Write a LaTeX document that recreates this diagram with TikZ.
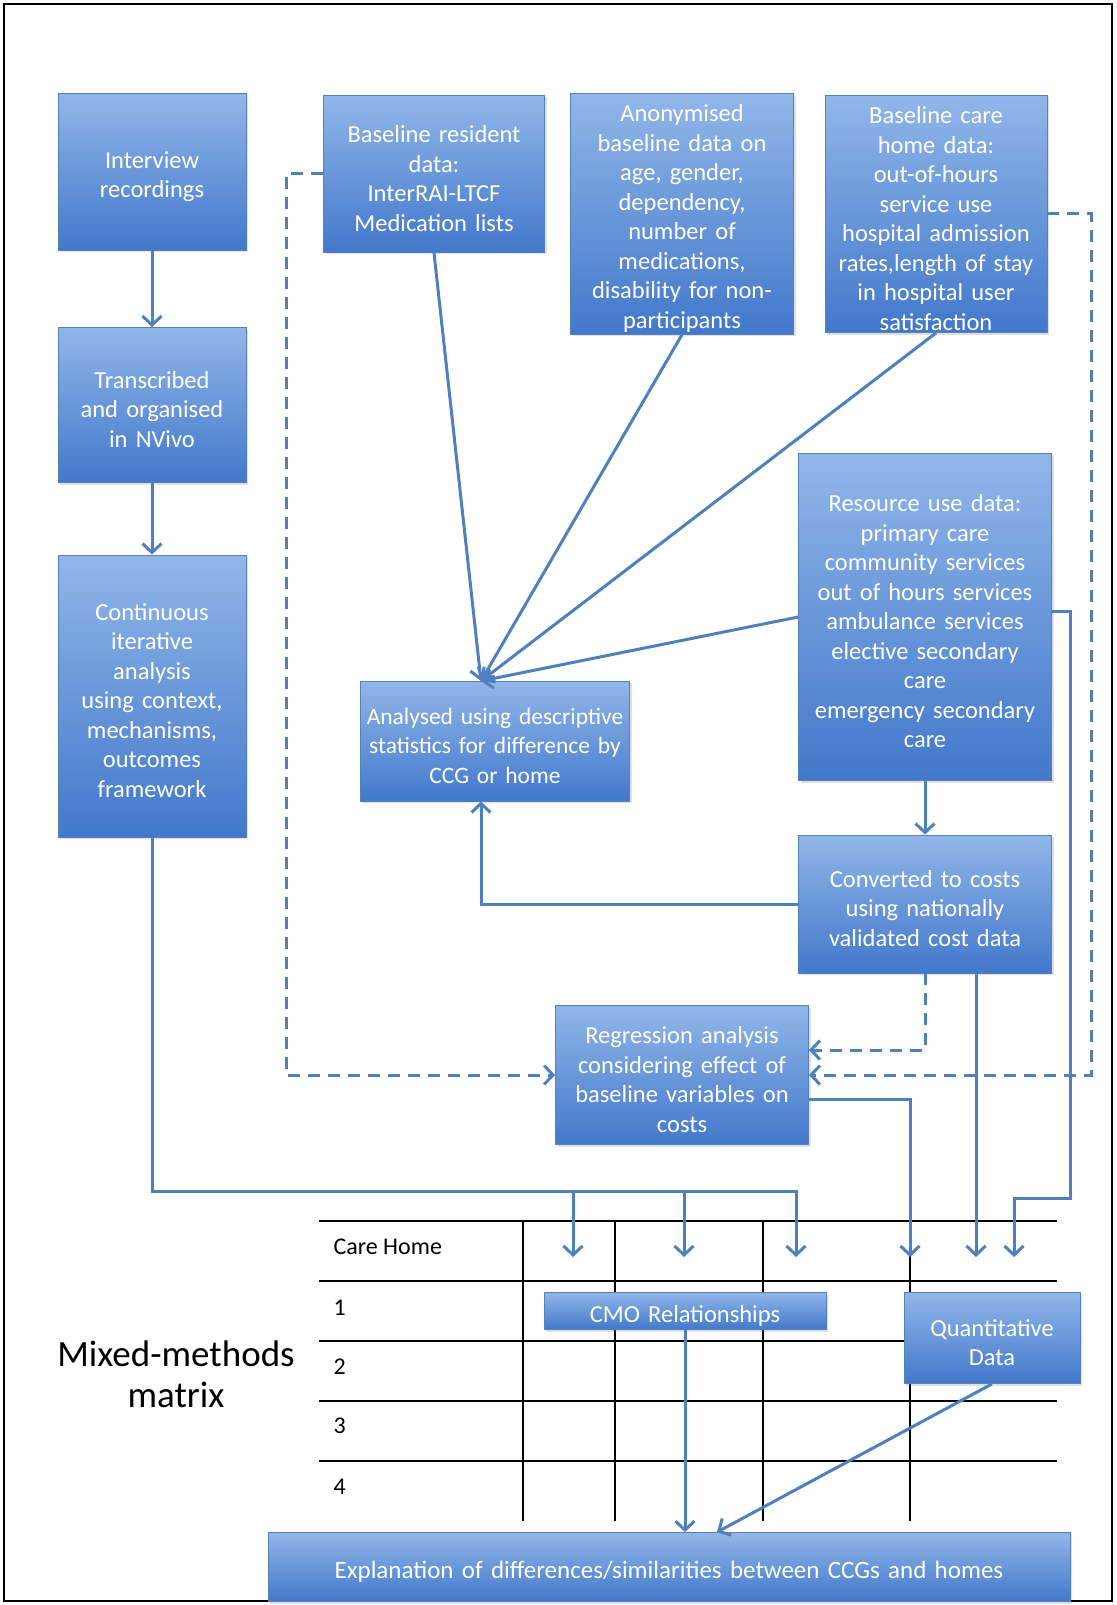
\documentclass[tikz,border=0pt]{standalone}
\usepackage{fontspec}
\setmainfont{Carlito}
\usetikzlibrary{arrows.meta,shadows}
\definecolor{boxtop}{RGB}{145,182,233}
\definecolor{boxbot}{RGB}{66,120,203}
\definecolor{boxline}{RGB}{86,128,186}
\definecolor{flowblue}{RGB}{79,128,190}
\begin{document}
\begin{tikzpicture}[x=1pt,y=-1pt,
  box/.style={draw=boxline,line width=0.8pt,top color=boxtop,bottom color=boxbot,text=white,align=center,
    text width=#1,inner sep=2pt,font=\fontsize{24.5}{29.5}\selectfont,execute at begin node={\rule{0pt}{26pt}},
    drop shadow={opacity=0.25,shadow xshift=2pt,shadow yshift=-2pt}},
  flow/.style={draw=flowblue,line width=3pt,-{Straight Barb[length=9pt,width=19pt]}},
  dflow/.style={flow,dash pattern=on 12pt off 8pt},
  tab/.style={line width=1.2pt,black},
  lab/.style={anchor=west,font=\fontsize{24}{28}\selectfont}]
\useasboundingbox (0,0) rectangle (1116,1605);
\draw[line width=2pt] (4,4) rectangle (1112,1601);

\foreach \y in {1221,1281,1341,1401,1461} \draw[tab] (319,\y) -- (1057,\y);
\foreach \x in {523,615,763,910} \draw[tab] (\x,1221) -- (\x,1521);
\node[lab] (home) at (330,1247) {Care Home};
\node[lab] (r1) at (330,1308) {1};
\node[lab] (r2) at (330,1367) {2};
\node[lab] (r3) at (330,1426) {3};
\node[lab] (r4) at (330,1487) {4};
\node[align=center,font=\fontsize{37}{41}\selectfont] (mmm) at (176,1374) {Mixed-methods\\matrix};

\node[box=184pt,minimum height=157pt] (rec) at (152,172) {Interview\\recordings};
\node[box=184pt,minimum height=155pt] (nvivo) at (152,405) {Transcribed\\and organised\\in NVivo};
\node[box=184pt,minimum height=282pt] (cont) at (152,696) {Continuous\\iterative\\analysis\\using context,\\mechanisms,\\outcomes\\framework};
\node[box=217pt,minimum height=157pt] (bres) at (434,174) {Baseline resident\\data:\\InterRAI-LTCF\\Medication lists};
\node[box=219pt,minimum height=237pt] (anon) at (682,214) {Anonymised\\baseline data on\\age, gender,\\dependency,\\number of\\medications,\\disability for non-\\participants};
\node[box=218pt,minimum height=237pt] (bcare) at (936,214) {Baseline care\\home data:\\out-of-hours\\service use\\hospital admission\\rates,length of stay\\in hospital user\\satisfaction};
\node[box=249pt,minimum height=327pt] (res) at (925,617) {Resource use data:\\primary care\\community services\\out of hours services\\ambulance services\\elective secondary\\care\\emergency secondary\\care};
\node[box=265pt,minimum height=120pt,font=\fontsize{23.5}{29.5}\selectfont] (ana) at (495,741) {Analysed using descriptive\\statistics for difference by\\CCG or home};
\node[box=249pt,minimum height=138pt] (conv) at (925,904) {Converted to costs\\using nationally\\validated cost data};
\node[box=249pt,minimum height=139pt] (reg) at (682,1075) {Regression analysis\\considering effect of\\baseline variables on\\costs};
\node[box=278pt,minimum height=37pt] (cmo) at (685,1311) {CMO Relationships};
\node[box=172pt,minimum height=91pt] (quant) at (992,1338) {Quantitative\\Data};
\node[box=798pt,minimum height=69pt,font=\fontsize{25}{30}\selectfont] (expl) at (669,1567) {Explanation of differences/similarities between CCGs and homes};

\coordinate (hub) at (481,681);
\coordinate (bus) at (0,1191);
\coordinate (ta) at (573,1257);
\coordinate (tb) at (684,1257);
\coordinate (tc) at (796,1257);
\coordinate (td) at (910,1257);
\coordinate (te) at (976,1257);
\coordinate (tf) at (1014,1257);
\coordinate (rr) at (1070,1198);

\draw[flow] (rec) -- (nvivo);
\draw[flow] (nvivo) -- (cont);
\draw[flow] (cont.south) |- (tc |- bus) -- (tc);
\draw[flow] (ta |- bus) -- (ta);
\draw[flow] (tb |- bus) -- (tb);
\draw[flow] (bres.south) -- (hub);
\draw[flow] (anon.south) -- (hub);
\draw[flow] (bcare.south) -- (hub);
\draw[flow] (res.west) -- (hub);
\draw[flow] (res) -- (conv);
\draw[flow] (conv.west) -| (hub |- ana.south);
\draw[dflow] (bres.west) -- ++(-37,0) |- (reg.west);
\draw[dflow] (bcare.east) -- ++(44,0) |- (reg.east);
\draw[dflow] (conv.south) |- ([yshift=25pt]reg.east);
\draw[flow] ([yshift=-24pt]reg.east) -| (td);
\draw[flow] (conv.south -| te) -- (te);
\draw[flow] ([yshift=6pt]res.east) -| (rr) -| (tf);
\draw[flow] (cmo.south) -- (cmo.south |- expl.north);
\draw[flow] (quant.south) -- ([xshift=48pt]expl.north);
\end{tikzpicture}
\end{document}
